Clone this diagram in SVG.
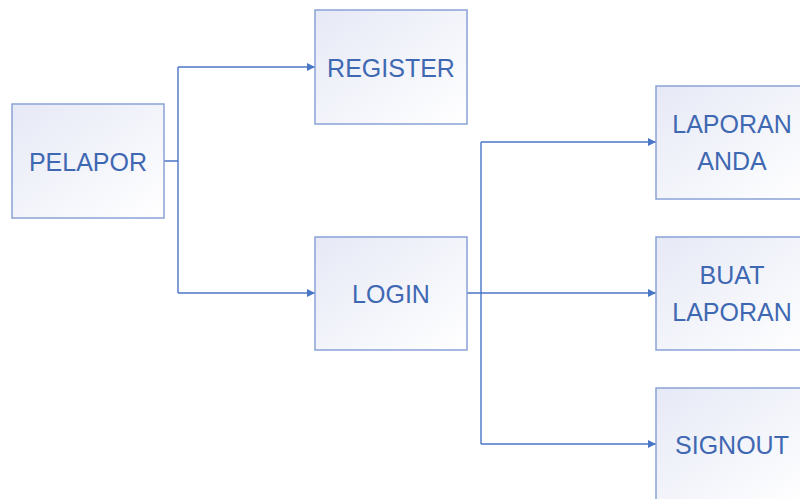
<svg xmlns="http://www.w3.org/2000/svg" width="800" height="499" viewBox="0 0 800 499">
  <defs>
    <linearGradient id="boxFill" x1="0" y1="0" x2="1" y2="1">
      <stop offset="0" stop-color="#e6e9f6"/>
      <stop offset="1" stop-color="#ffffff"/>
    </linearGradient>
    <marker id="arrow" viewBox="0 0 10 10" refX="10" refY="5" markerWidth="10" markerHeight="8" markerUnits="userSpaceOnUse" orient="auto">
      <path d="M0,0 L10,5 L0,10 Z" fill="#4a76c6"/>
    </marker>
    <style>
      .box { fill: url(#boxFill); stroke: #8aa2d6; stroke-width: 1.5; }
      .label { font-family: "Liberation Sans", Arial, sans-serif; font-size: 25px; fill: #3f68b2; text-anchor: middle; dominant-baseline: central; }
      .conn { fill: none; stroke: #4a76c6; stroke-width: 1.4; }
    </style>
  </defs>

  <g id="connectors">
    <path class="conn" d="M164,161 H178 M178,67 V293"/>
    <path class="conn" d="M178,67 H315" marker-end="url(#arrow)"/>
    <path class="conn" d="M178,293 H315" marker-end="url(#arrow)"/>
    <path class="conn" d="M467,293 H481 M481,142 V444"/>
    <path class="conn" d="M481,142 H656" marker-end="url(#arrow)"/>
    <path class="conn" d="M481,293 H656" marker-end="url(#arrow)"/>
    <path class="conn" d="M481,444 H656" marker-end="url(#arrow)"/>
  </g>

  <g id="pelapor">
    <rect class="box" x="12" y="104" width="152" height="114"/>
    <text class="label" x="88" y="162">PELAPOR</text>
  </g>
  <g id="register">
    <rect class="box" x="315" y="10" width="152" height="114"/>
    <text class="label" x="391" y="68">REGISTER</text>
  </g>
  <g id="login">
    <rect class="box" x="315" y="237" width="152" height="113"/>
    <text class="label" x="391" y="294">LOGIN</text>
  </g>
  <g id="laporan-anda">
    <rect class="box" x="656" y="86" width="152" height="113"/>
    <text class="label" x="732" y="124">LAPORAN</text>
    <text class="label" x="732" y="161">ANDA</text>
  </g>
  <g id="buat-laporan">
    <rect class="box" x="656" y="237" width="152" height="113"/>
    <text class="label" x="732" y="275">BUAT</text>
    <text class="label" x="732" y="312">LAPORAN</text>
  </g>
  <g id="signout">
    <rect class="box" x="656" y="388" width="152" height="114"/>
    <text class="label" x="732" y="445">SIGNOUT</text>
  </g>
</svg>
